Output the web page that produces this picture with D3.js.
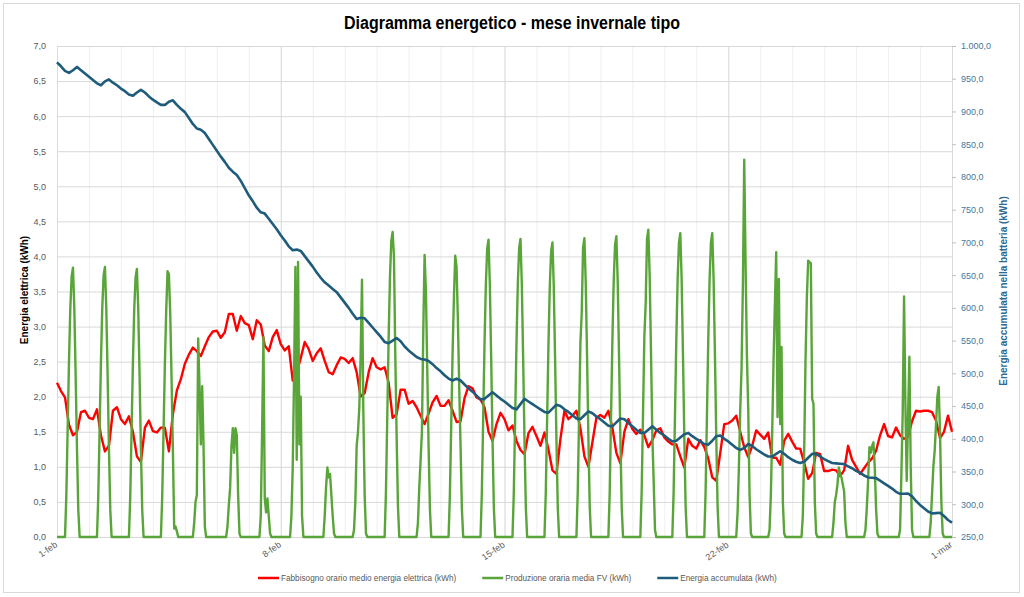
<!DOCTYPE html>
<html>
<head>
<meta charset="utf-8">
<script src="https://cdn.jsdelivr.net/npm/d3@7"></script>
<style>
  body { margin: 0; background: #fff; }
  svg text { font-family: "Liberation Sans", Arial, sans-serif; }
</style>
</head>
<body>
<div id="chart"></div>
<script>
// Diagramma energetico - mese invernale tipo (febbraio, 672 ore)

// x axis labels (one every week)
const tickLabels = ["1-feb", "8-feb", "15-feb", "22-feb", "1-mar"];
const tickDays = [0, 7, 14, 21, 28];

// hourly demand, one value every 3 hours (kWh)
const demandStep = 3;
const demandKwh = [
  2.2, 2.08, 1.99, 1.6, 1.45, 1.5, 1.78, 1.8,
  1.70, 1.68, 1.82, 1.45, 1.22, 1.3, 1.80, 1.85,
  1.68, 1.61, 1.72, 1.5, 1.15, 1.07, 1.56, 1.66,
  1.51, 1.49, 1.56, 1.56, 1.22, 1.75, 2.09, 2.25,
  2.47, 2.6, 2.70, 2.65, 2.58, 2.72, 2.85, 2.93,
  2.94, 2.84, 2.92, 3.18, 3.18, 2.94, 3.15, 3.05,
  3.02, 2.82, 3.09, 3.03, 2.73, 2.65, 2.85, 2.95,
  2.75, 2.66, 2.72, 2.23, 2.34, 2.55, 2.78, 2.68,
  2.51, 2.62, 2.69, 2.51, 2.35, 2.32, 2.45, 2.56,
  2.54, 2.48, 2.55, 2.35, 2.0, 2.05, 2.35, 2.55,
  2.42, 2.39, 2.42, 2.2, 1.7, 1.75, 2.1, 2.1,
  1.9, 1.94, 1.85, 1.73, 1.61, 1.76, 1.92, 2.01,
  1.87, 1.87, 1.95, 1.8, 1.64, 1.65, 1.98, 2.15,
  2.12, 1.99, 1.96, 1.85, 1.5, 1.37, 1.61, 1.77,
  1.68, 1.52, 1.59, 1.37, 1.24, 1.18, 1.48, 1.57,
  1.44, 1.3, 1.49, 1.25, 0.95, 0.9, 1.4, 1.80,
  1.68, 1.73, 1.80, 1.55, 1.15, 1.0, 1.35, 1.70,
  1.74, 1.70, 1.80, 1.56, 1.2, 1.05, 1.5, 1.68,
  1.54, 1.47, 1.53, 1.45, 1.28, 1.38, 1.52, 1.55,
  1.42, 1.36, 1.32, 1.32, 1.15, 0.99, 1.4, 1.30,
  1.26, 1.38, 1.28, 1.12, 0.85, 0.8, 1.2, 1.61,
  1.62, 1.66, 1.73, 1.5, 1.28, 1.14, 1.3, 1.52,
  1.46, 1.40, 1.49, 1.13, 1.13, 1.03, 1.37, 1.47,
  1.36, 1.26, 1.26, 1.06, 0.83, 0.91, 1.2, 1.18,
  0.94, 0.94, 0.96, 0.95, 0.87, 0.95, 1.3, 1.1,
  1.0, 0.9, 0.98, 1.06, 1.12, 1.23, 1.45, 1.61,
  1.44, 1.42, 1.56, 1.45, 1.4, 1.43, 1.65, 1.80,
  1.79, 1.80, 1.80, 1.78, 1.66, 1.41, 1.5, 1.73,
  1.5
];

// energy stored in the battery, one value every 3 hours (kWh)
const storedKwh = [
  975, 969, 962, 959, 963, 968, 963, 958,
  953, 948, 943, 940, 946, 949, 944, 940,
  935, 931, 926, 924, 929, 933, 929, 923,
  918, 914, 910, 910, 915, 917, 910, 904,
  899, 890, 881, 874, 872, 867, 858, 849,
  840, 831, 823, 814, 808, 803, 794, 783,
  772, 763, 753, 746, 744, 736, 728, 720,
  711, 703, 694, 688, 689, 687, 679, 671,
  663, 654, 646, 639, 634, 629, 624, 616,
  608, 600, 591, 583, 585, 584, 577, 570,
  563, 556, 548, 546, 550, 554, 549, 541,
  535, 530, 525, 522, 521, 519, 514, 508,
  503, 497, 492, 489, 492, 489, 483, 477,
  472, 466, 460, 461, 466, 471, 466, 461,
  457, 452, 447, 445, 453, 461, 457, 453,
  449, 445, 441, 440, 446, 452, 450, 445,
  441, 436, 431, 430, 436, 442, 439, 434,
  430, 425, 420, 419, 425, 431, 430, 424,
  419, 414, 409, 409, 414, 419, 414, 409,
  405, 400, 396, 397, 402, 407, 409, 404,
  400, 396, 392, 391, 397, 404, 405, 400,
  396, 391, 386, 383, 386, 392, 389, 384,
  380, 376, 373, 373, 377, 381, 377, 372,
  368, 365, 363, 365, 371, 377, 377, 373,
  369, 366, 363, 362.5, 362, 361.5, 358, 355,
  351, 348, 344, 341, 340.5, 340, 336, 332,
  328, 324, 319, 316, 316, 316.5, 312, 305,
  299, 294, 289, 286, 286.5, 287, 282, 276,
  272
];

// PV production per day, hours 6..19 (night hours are 0)
const pvFirstHour = 6;
const pvDaytime = [
  [0, 0.58, 1.54, 2.5, 3.26, 3.72, 3.84, 3.26, 2.3, 1.27, 0.38, 0, 0, 0],
  [0, 0.58, 1.54, 2.5, 3.27, 3.73, 3.85, 3.27, 2.31, 1.27, 0.39, 0, 0, 0],
  [0, 0.57, 1.53, 2.48, 3.25, 3.7, 3.82, 3.25, 2.29, 1.26, 0.38, 0, 0, 0],
  [0, 0.57, 1.52, 2.46, 3.22, 3.79, 3.75, 3.2, 2.27, 1.25, 0.12, 0.15, 0.08, 0],
  [0, 0.2, 0.5, 0.6, 2.83, 2.13, 1.32, 2.15, 1.32, 0.15, 0, 0, 0, 0],
  [0, 0, 0.15, 0.45, 0.7, 1.3, 1.55, 1.2, 1.55, 1.45, 0.6, 0.05, 0, 0],
  [0, 0, 0, 0.3, 1.5, 2.85, 0.55, 0.35, 0.55, 0.3, 0.05, 0, 0, 0],
  [0, 0, 0.3, 1.0, 2.3, 3.85, 1.1, 3.92, 1.32, 2.0, 0.3, 0, 0, 0],
  [0, 0, 0, 0.3, 0.7, 0.99, 0.85, 0.9, 0.6, 0.3, 0.05, 0, 0, 0],
  [0, 0.1, 0.5, 1.3, 1.5, 1.85, 2.6, 3.67, 1.8, 0.6, 0.05, 0, 0, 0],
  [0, 0.65, 1.74, 2.83, 3.7, 4.22, 4.35, 4.0, 2.6, 1.44, 0.44, 0, 0, 0],
  [0, 0.2, 0.7, 1.09, 1.5, 2.9, 4.02, 3.5, 2.4, 1.3, 0.4, 0, 0, 0],
  [0, 0.6, 1.6, 2.6, 3.4, 4.01, 3.85, 3.1, 2.13, 1.3, 0.4, 0, 0, 0],
  [0, 0.64, 1.7, 2.76, 3.6, 4.11, 4.24, 3.6, 2.54, 1.4, 0.42, 0, 0, 0],
  [0, 0.64, 1.7, 2.76, 3.61, 4.12, 4.25, 3.61, 2.55, 1.4, 0.43, 0, 0, 0],
  [0, 0.63, 1.68, 2.73, 3.57, 4.07, 4.2, 3.57, 2.52, 1.39, 0.42, 0, 0, 0],
  [0, 0.64, 1.7, 2.77, 3.2, 4.13, 4.26, 3.62, 2.56, 1.41, 0.43, 0, 0, 0],
  [0, 0.64, 1.72, 2.79, 3.65, 4.16, 4.29, 3.65, 2.57, 1.42, 0.43, 0, 0, 0],
  [0, 0.66, 1.75, 2.85, 3.32, 4.25, 4.38, 3.72, 2.63, 1.45, 0.8, 0.1, 0, 0],
  [0, 0.65, 1.73, 2.81, 3.68, 4.2, 4.33, 3.68, 2.6, 1.43, 0.43, 0, 0, 0],
  [0, 0.65, 1.73, 2.81, 3.68, 4.2, 4.33, 3.68, 2.6, 1.43, 0.43, 0, 0, 0],
  [0, 0.35, 1.0, 1.8, 2.42, 3.6, 5.38, 3.9, 2.6, 1.83, 0.6, 0.05, 0, 0],
  [0, 0.1, 0.6, 1.5, 2.5, 3.3, 4.06, 1.71, 3.68, 1.61, 2.71, 0.5, 0.05, 0],
  [0, 0, 0.3, 1.2, 2.5, 3.4, 3.94, 3.92, 3.9, 1.97, 1.9, 0.5, 0.05, 0],
  [0, 0.2, 0.5, 0.6, 0.75, 0.99, 0.9, 0.85, 0.75, 0.65, 0.2, 0, 0, 0],
  [0, 0.1, 0.4, 0.8, 1.28, 1.2, 1.3, 1.35, 1.0, 0.4, 0.05, 0, 0, 0],
  [0, 0, 0, 0.1, 0.9, 1.78, 3.43, 1.9, 0.8, 1.7, 2.57, 1.0, 0.1, 0],
  [0, 0, 0.2, 0.6, 1.0, 1.23, 1.6, 2.0, 2.14, 1.5, 0.5, 0.05, 0, 0]
];

const seriesNames = [
  "Fabbisogno orario medio energia elettrica (kWh)",
  "Produzione oraria media FV (kWh)",
  "Energia accumulata (kWh)"
];
const seriesColors = ["#ff0000", "#5aa53a", "#1f5c7c"];

// --- build the hourly series
const demand = demandKwh.map((v, i) => ({ h: i * demandStep, v: v }));
const stored = storedKwh.map((v, i) => ({ h: i * demandStep, v: v }));
const pv = [];
pvDaytime.forEach(function(day, d) {
  for (let h = 0; h < 24; h++) {
    const k = h - pvFirstHour;
    pv.push({ h: d * 24 + h, v: (k >= 0 && k < day.length) ? day[k] : 0 });
  }
});
pv.push({ h: 28 * 24, v: 0 });

// --- layout
const svgWidth = 1024, svgHeight = 597;
const margin = { top: 46, right: 72, bottom: 60, left: 57 };
const width = svgWidth - margin.left - margin.right;   // 895
const height = svgHeight - margin.top - margin.bottom; // 491

const it = d3.formatLocale({ decimal: ",", thousands: ".", grouping: [3], currency: ["€", ""] });
const fmt = it.format(",.1f");

const svg = d3.select("#chart")
  .append("svg")
  .attr("width", svgWidth)
  .attr("height", svgHeight);

svg.append("rect")
  .attr("width", svgWidth).attr("height", svgHeight)
  .attr("fill", "#fff");

svg.append("rect")
  .attr("x", 3.5).attr("y", 3.5)
  .attr("width", 1016).attr("height", 589)
  .attr("fill", "none")
  .attr("stroke", "#d9d9d9");

const chartGroup = svg.append("g")
  .attr("transform", `translate(${margin.left}, ${margin.top})`);

// scales
const xScale = d3.scaleLinear().domain([0, 28 * 24]).range([0, width]);
const yLeft = d3.scaleLinear().domain([0, 7]).range([height, 0]);
const yRight = d3.scaleLinear().domain([250, 1000]).range([height, 0]);

// daily vertical gridlines (light), weekly ones darker
chartGroup.append("g")
  .attr("transform", `translate(0, ${height})`)
  .call(d3.axisBottom(xScale).tickValues(d3.range(0, 29).map(d => d * 24)).tickSize(-height).tickFormat(""))
  .call(g => g.select(".domain").remove())
  .call(g => g.selectAll("line").attr("stroke", "#efefef"));

chartGroup.append("g")
  .attr("transform", `translate(0, ${height})`)
  .call(d3.axisBottom(xScale).tickValues(tickDays.map(d => d * 24)).tickSize(-height).tickFormat(""))
  .call(g => g.select(".domain").remove())
  .call(g => g.selectAll("line").attr("stroke", "#dcdcdc"));

// left axis + horizontal gridlines
chartGroup.append("g")
  .call(d3.axisLeft(yLeft).tickValues(d3.range(0, 7.01, 0.5)).tickSize(-width).tickPadding(11).tickFormat(fmt))
  .call(g => g.select(".domain").remove())
  .call(g => g.selectAll("line").attr("stroke", "#d9d9d9"))
  .call(g => g.selectAll("text").attr("fill", "#595959").attr("font-size", 9));

// right axis
chartGroup.append("g")
  .attr("transform", `translate(${width}, 0)`)
  .call(d3.axisRight(yRight).tickValues(d3.range(250, 1000.1, 50)).tickSize(4).tickPadding(5).tickFormat(fmt))
  .call(g => g.select(".domain").attr("stroke", "#d9d9d9"))
  .call(g => g.selectAll("line").attr("stroke", "#bfbfbf"))
  .call(g => g.selectAll("text").attr("fill", "#44779c").attr("font-size", 9));

// x tick labels
chartGroup.selectAll(".xlabel")
  .data(tickDays)
  .enter()
  .append("text")
  .attr("class", "xlabel")
  .attr("transform", d => `translate(${xScale(d * 24) + 1}, ${height + 9}) rotate(-35)`)
  .attr("text-anchor", "end")
  .attr("font-size", 9)
  .attr("fill", "#595959")
  .text((d, i) => tickLabels[i]);

// lines
const lineLeft = d3.line().x(d => xScale(d.h)).y(d => yLeft(d.v));
const lineRight = d3.line().x(d => xScale(d.h)).y(d => yRight(d.v));

chartGroup.append("path")
  .datum(demand)
  .attr("d", lineLeft)
  .attr("fill", "none")
  .attr("stroke", seriesColors[0])
  .attr("stroke-width", 2.4)
  .attr("stroke-linejoin", "round");

chartGroup.append("path")
  .datum(pv)
  .attr("d", lineLeft)
  .attr("fill", "none")
  .attr("stroke", seriesColors[1])
  .attr("stroke-width", 2.4)
  .attr("stroke-linejoin", "round");

chartGroup.append("path")
  .datum(stored)
  .attr("d", lineRight)
  .attr("fill", "none")
  .attr("stroke", seriesColors[2])
  .attr("stroke-width", 2.6)
  .attr("stroke-linejoin", "round");

// title (narrow look: glyphs squeezed to the reference width)
svg.append("text")
  .attr("x", 512).attr("y", 29)
  .attr("text-anchor", "middle")
  .attr("font-weight", "bold")
  .attr("font-size", 18)
  .attr("textLength", 336)
  .attr("lengthAdjust", "spacingAndGlyphs")
  .attr("fill", "#000")
  .text("Diagramma energetico - mese invernale tipo");

// axis titles
svg.append("text")
  .attr("transform", "translate(28, 290) rotate(-90)")
  .attr("text-anchor", "middle")
  .attr("font-weight", "bold")
  .attr("font-size", 10)
  .attr("fill", "#000")
  .text("Energia elettrica (kWh)");

svg.append("text")
  .attr("transform", "translate(1007, 291) rotate(-90)")
  .attr("text-anchor", "middle")
  .attr("font-weight", "bold")
  .attr("font-size", 10)
  .attr("fill", "#2e6b93")
  .text("Energia accumulata nella batteria (kWh)");

// legend
const legend = svg.append("g").attr("transform", "translate(258, 578)");
let lx = 0;
seriesNames.forEach(function(name, i) {
  const item = legend.append("g").attr("transform", `translate(${lx}, 0)`);
  item.append("line")
    .attr("x1", 0).attr("x2", 21)
    .attr("stroke", seriesColors[i])
    .attr("stroke-width", 2.5);
  const t = item.append("text")
    .attr("x", 23).attr("dy", "0.35em")
    .attr("font-size", 8.2)
    .attr("fill", "#595959")
    .text(name);
  lx += 23 + t.node().getComputedTextLength() + 26;
});
</script>
</body>
</html>
